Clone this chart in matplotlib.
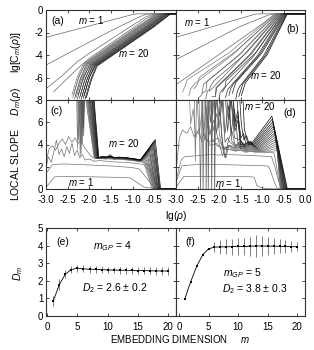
import matplotlib
matplotlib.use("Agg")
import matplotlib.pyplot as plt

plt.rcParams["font.family"] = ["Liberation Sans", "DejaVu Sans"]
plt.rcParams["mathtext.fontset"] = "custom"
plt.rcParams["mathtext.rm"] = "Liberation Sans"
plt.rcParams["mathtext.it"] = "Liberation Sans:italic"
plt.rcParams["font.size"] = 7

# ---------------- panel (a): lg C_m vs lg rho ----------------
A_LOW = [
    [(-3.0, -2.43), (-2.0, -1.42), (-1.0, -0.40), (-0.9, -0.34), (0.0, -0.34)],
    [(-3.0, -4.90), (-2.5, -3.87), (-2.0, -2.85), (-1.5, -1.85), (-1.0, -0.90), (-0.75, -0.45), (-0.6, -0.34), (0.0, -0.34)],
    [(-3.0, -7.00), (-2.6, -5.75), (-2.28, -4.60), (-2.0, -3.85), (-1.5, -2.60), (-1.0, -1.35), (-0.7, -0.62), (-0.5, -0.36), (0.0, -0.34)],
    [(-2.82, -7.25), (-2.5, -6.05), (-2.2, -4.95), (-2.0, -4.30), (-1.5, -2.95), (-1.0, -1.62), (-0.7, -0.80), (-0.5, -0.42), (-0.4, -0.34), (0.0, -0.34)],
]
# m = 5..20
A_XB = [-2.40, -2.38, -2.36, -2.34, -2.32, -2.30, -2.28, -2.25, -2.23, -2.21, -2.19, -2.17, -2.14, -2.12, -2.10, -2.07]
A_YB = [-7.55, -7.80, -7.45, -7.90, -7.60, -7.75, -7.95, -7.50, -7.85, -7.65, -7.95, -7.70, -7.85, -7.60, -7.90, -7.80]
A_X1 = [-2.28, -2.26, -2.24, -2.22, -2.20, -2.18, -2.16, -2.13, -2.11, -2.09, -2.07, -2.05, -2.02, -2.00, -1.98, -1.95]
A_Y1 = [-5.95, -6.20, -5.85, -6.30, -6.00, -6.15, -6.35, -5.90, -6.25, -6.05, -6.35, -6.10, -6.25, -6.00, -6.30, -6.20]
A_XK = [-2.13, -2.11, -2.09, -2.07, -2.05, -2.03, -2.00, -1.98, -1.96, -1.94, -1.92, -1.90, -1.88, -1.86, -1.84, -1.82]
A_YK = [-4.75, -4.77, -4.78, -4.80, -4.81, -4.83, -4.84, -4.86, -4.87, -4.89, -4.90, -4.92, -4.93, -4.95, -4.96, -4.98]
A_X3 = [-0.90, -0.88, -0.85, -0.83, -0.80, -0.77, -0.74, -0.71, -0.69, -0.66, -0.64, -0.61, -0.59, -0.56, -0.53, -0.51]
A_XT = [-0.45, -0.43, -0.41, -0.38, -0.36, -0.34, -0.32, -0.30, -0.27, -0.25, -0.23, -0.21, -0.19, -0.16, -0.14, -0.12]

# ---------------- panel (b) ----------------
B_LOW = [
    [(-3.0, -2.43), (-1.15, -0.36), (-1.0, -0.34), (0.0, -0.34)],
    [(-3.0, -4.41), (-1.5, -1.45), (-0.85, -0.45), (-0.7, -0.34), (0.0, -0.34)],
    [(-3.0, -6.64), (-2.0, -3.95), (-1.0, -1.25), (-0.75, -0.50), (-0.65, -0.34), (0.0, -0.34)],
]
# m = 4..20
B_XB = [-2.85, -2.70, -2.58, -2.47, -2.39, -2.31, -2.23, -2.16, -2.08, -2.00, -1.92, -1.85, -1.77, -1.69, -1.61, -1.54, -1.48]
B_YB = [-7.3, -7.6, -7.0, -7.8, -7.4, -7.9, -7.2, -7.7, -7.5, -7.9, -7.3, -7.8, -7.6, -7.4, -7.9, -7.7, -7.6]
B_W1 = [(-2.78, -6.7), (-2.66, -7.0), (-2.50, -6.6), (-2.40, -7.55), (-2.30, -7.2), (-2.27, -7.2), (-2.20, -6.8),
        (-2.08, -7.7), (-2.05, -6.9), (-1.97, -7.3), (-1.86, -6.9), (-1.80, -7.1), (-1.73, -7.0), (-1.64, -6.8),
        (-1.57, -7.2), (-1.49, -7.1), (-1.43, -7.0)]
B_W2 = [(-2.74, -6.2), (-2.55, -6.5), (-2.46, -6.0), (-2.36, -6.6), (-2.29, -6.4), (-2.19, -7.1), (-2.12, -6.3),
        (-2.07, -6.9), (-1.97, -6.6), (-1.90, -7.0), (-1.84, -6.3), (-1.74, -6.8), (-1.67, -6.6), (-1.60, -6.4),
        (-1.52, -6.8), (-1.45, -6.6), (-1.39, -6.5)]
B_XM = [-1.77, -1.68, -1.61, -1.55, -1.50, -1.45, -1.35, -1.30, -1.25, -1.20, -1.15, -1.11, -1.06, -1.01, -0.97, -0.92, -0.88]
B_YM = [-3.82, -3.97, -3.67, -4.07, -3.87, -4.12, -3.77, -4.02, -3.92, -4.12, -3.82, -4.07, -3.97, -3.87, -4.12, -4.02, -3.97]
B_XT = [-0.68, -0.66, -0.64, -0.62, -0.61, -0.59, -0.57, -0.55, -0.54, -0.52, -0.50, -0.49, -0.47, -0.45, -0.44, -0.42, -0.41]

# ---------------- panel (c): local slope ----------------
C_LOW = [
    [(-3.0, 0.15), (-2.8, 1.10), (-2.4, 1.12), (-2.0, 1.10), (-1.5, 1.06), (-1.05, 1.00), (-0.95, 0.70), (-0.74, 0.18), (-0.5, 0.05), (-0.3, 0.0), (0.0, 0.0)],
    [(-3.0, 1.40), (-2.85, 2.20), (-2.6, 2.25), (-2.2, 2.20), (-1.8, 2.12), (-1.4, 2.05), (-1.0, 1.92), (-0.85, 1.80), (-0.7, 1.10), (-0.55, 0.35), (-0.45, 0.08), (-0.3, 0.0), (0.0, 0.0)],
    [(-3.0, 1.8), (-2.95, 2.9), (-2.88, 2.4), (-2.82, 3.3), (-2.76, 4.4), (-2.70, 3.1), (-2.64, 3.6), (-2.58, 2.9), (-2.52, 3.8),
     (-2.46, 3.2), (-2.40, 4.1), (-2.34, 3.0), (-2.28, 3.5), (-2.22, 2.8), (-2.16, 3.1), (-2.10, 2.6), (-2.0, 2.7), (-1.9, 2.5),
     (-1.75, 2.55), (-1.5, 2.45), (-1.2, 2.40), (-0.9, 2.30), (-0.75, 2.20), (-0.6, 1.6), (-0.5, 0.7), (-0.42, 0.15), (-0.3, 0.0), (0.0, 0.0)],
    [(-3.0, 2.4), (-2.93, 3.6), (-2.85, 3.9), (-2.78, 3.5), (-2.70, 4.1), (-2.62, 4.5), (-2.55, 4.0), (-2.48, 4.7), (-2.40, 4.2),
     (-2.33, 4.6), (-2.26, 4.1), (-2.20, 4.4), (-2.12, 3.8), (-2.05, 3.4), (-1.95, 2.9), (-1.85, 2.75), (-1.7, 2.72), (-1.4, 2.68),
     (-1.1, 2.60), (-0.9, 2.50), (-0.75, 2.40), (-0.62, 2.10), (-0.52, 1.2), (-0.45, 0.4), (-0.38, 0.05), (-0.3, 0.0), (0.0, 0.0)],
]
C_ZIG = [
    [(-2.30, 9.5), (-2.27, 3.6), (-2.245, 9.5), (-2.21, 5.2), (-2.18, 9.5), (-2.14, 6.4), (-2.11, 9.5)],
    [(-2.28, 9.5), (-2.25, 4.4), (-2.22, 9.5), (-2.19, 3.2), (-2.16, 9.5), (-2.12, 7.0), (-2.10, 9.5)],
    [(-2.26, 9.5), (-2.23, 5.8), (-2.20, 9.5), (-2.17, 4.0), (-2.13, 9.5)],
    [(-2.25, 9.5), (-2.21, 3.0), (-2.18, 9.5), (-2.15, 5.5), (-2.12, 9.5)],
    [(-2.22, 9.5), (-2.19, 6.5), (-2.16, 9.5), (-2.13, 4.8), (-2.10, 9.5)],
    [(-2.20, 9.5), (-2.17, 4.2), (-2.14, 9.5)],
    [(-2.18, 9.5), (-2.14, 5.6), (-2.11, 9.5)],
    [(-2.2, 9.5)], [(-2.2, 9.5)], [(-2.2, 9.5)], [(-2.2, 9.5)], [(-2.2, 9.5)],
    [(-2.2, 9.5)], [(-2.2, 9.5)], [(-2.2, 9.5)], [(-2.2, 9.5)],
]
C_XT = [-2.08, -2.07, -2.05, -2.04, -2.03, -2.02, -2.00, -1.99, -1.98, -1.97, -1.95, -1.94, -1.93, -1.91, -1.90, -1.89]
C_XP = [-1.89, -1.88, -1.88, -1.87, -1.86, -1.85, -1.85, -1.84, -1.83, -1.82, -1.82, -1.81, -1.80, -1.80, -1.79, -1.78]
C_PX = [-1.72, -1.62, -1.52, -1.42, -1.32, -1.22, -1.12, -1.02, -0.92, -0.82]
C_PY = [
    [2.74, 2.70, 2.76, 2.68, 2.70, 2.66, 2.62, 2.58, 2.52, 2.47],
    [2.80, 2.72, 2.74, 2.71, 2.73, 2.68, 2.64, 2.60, 2.54, 2.49],
    [2.76, 2.78, 2.85, 2.70, 2.75, 2.70, 2.66, 2.61, 2.55, 2.50],
    [2.82, 2.74, 3.05, 2.74, 2.77, 2.71, 2.67, 2.63, 2.57, 2.51],
    [2.78, 2.80, 2.82, 2.76, 2.74, 2.73, 2.69, 2.64, 2.58, 2.52],
    [2.85, 2.76, 3.10, 2.72, 2.79, 2.74, 2.70, 2.65, 2.59, 2.53],
    [2.79, 2.83, 2.80, 2.78, 2.76, 2.75, 2.71, 2.66, 2.60, 2.54],
    [2.84, 2.78, 2.88, 2.75, 2.81, 2.76, 2.72, 2.67, 2.61, 2.55],
    [2.80, 2.85, 2.83, 2.80, 2.77, 2.77, 2.73, 2.68, 2.62, 2.56],
    [2.87, 2.80, 2.95, 2.77, 2.82, 2.78, 2.74, 2.69, 2.63, 2.57],
    [2.82, 2.86, 2.84, 2.82, 2.79, 2.79, 2.75, 2.70, 2.64, 2.58],
    [2.88, 2.82, 2.90, 2.79, 2.84, 2.80, 2.76, 2.71, 2.65, 2.59],
    [2.84, 2.88, 2.86, 2.84, 2.80, 2.81, 2.77, 2.72, 2.66, 2.60],
    [2.90, 2.84, 2.92, 2.81, 2.85, 2.82, 2.78, 2.73, 2.67, 2.61],
    [2.86, 2.90, 2.87, 2.85, 2.82, 2.83, 2.79, 2.74, 2.68, 2.62],
    [2.92, 2.86, 2.94, 2.83, 2.87, 2.84, 2.80, 2.75, 2.69, 2.63],
]
C_XPK = [-0.75, -0.73, -0.71, -0.70, -0.68, -0.66, -0.64, -0.62, -0.61, -0.59, -0.57, -0.55, -0.53, -0.52, -0.50, -0.48]
C_YPK = [2.45, 2.55, 2.65, 2.78, 2.90, 3.03, 3.15, 3.30, 3.43, 3.57, 3.70, 3.85, 4.00, 4.15, 4.30, 4.45]
C_XZ = [-0.55, -0.54, -0.52, -0.51, -0.50, -0.49, -0.47, -0.46, -0.45, -0.43, -0.42, -0.41, -0.39, -0.38, -0.37, -0.355]

# ---------------- panel (d) ----------------
D_LOW = [
    [(-3.0, 0.15), (-2.82, 1.12), (-2.0, 1.12), (-1.25, 1.10), (-1.18, 1.05), (-1.12, 0.30), (-1.0, 0.10), (-0.8, 0.02), (-0.6, 0.0), (0.0, 0.0)],
    [(-3.0, 0.6), (-2.86, 2.10), (-2.5, 2.20), (-2.0, 2.20), (-1.5, 2.15), (-1.0, 2.10), (-0.85, 2.05), (-0.8, 1.6), (-0.7, 0.5), (-0.64, 0.05), (-0.5, 0.0), (0.0, 0.0)],
    [(-3.0, 0.8), (-2.88, 2.6), (-2.8, 2.9), (-2.5, 3.0), (-2.2, 3.1), (-2.0, 3.05), (-1.8, 3.1), (-1.5, 3.05), (-1.2, 3.0),
     (-0.95, 2.95), (-0.78, 2.9), (-0.7, 2.0), (-0.62, 0.8), (-0.56, 0.1), (-0.5, 0.0), (0.0, 0.0)],
    [(-3.0, 1.5), (-2.92, 4.6), (-2.85, 5.3), (-2.75, 5.0), (-2.66, 5.6), (-2.58, 4.7), (-2.50, 5.2), (-2.42, 4.5), (-2.34, 4.9),
     (-2.25, 4.2), (-2.15, 4.4), (-2.05, 3.9), (-1.9, 3.7), (-1.7, 3.5), (-1.5, 3.45), (-1.3, 3.4), (-1.1, 3.35), (-0.9, 3.3),
     (-0.72, 3.25), (-0.66, 2.0), (-0.6, 0.6), (-0.56, 0.05), (-0.5, 0.0), (0.0, 0.0)],
]
D_NOISE = [
    [(-2.70, 9.5), (-2.66, 5.8), (-2.60, 7.2), (-2.54, 4.6), (-2.47, 5.4), (-2.40, 4.2), (-2.30, 4.6), (-2.20, 3.9), (-2.05, 4.1), (-1.95, 3.6)],
    [(-2.58, 9.5), (-2.55, 2.5), (-2.52, 8.6), (-2.46, 5.0), (-2.40, 6.8), (-2.33, 4.4), (-2.25, 5.9), (-2.15, 4.3), (-2.02, 4.6), (-1.92, 3.8)],
    [(-2.47, 9.5), (-2.43, -0.5), (-2.40, 9.5), (-2.36, 4.8), (-2.30, 7.5), (-2.22, 4.9), (-2.12, 6.2), (-2.02, 4.4), (-1.92, 3.0), (-1.86, 3.7)],
    [(-2.39, 9.5), (-2.37, -0.5), (-2.34, 9.5), (-2.28, 5.5), (-2.22, 8.2), (-2.14, 5.2), (-2.05, 6.8), (-1.97, 4.5), (-1.90, 3.6)],
    [(-2.31, 9.5), (-2.30, -0.5), (-2.27, 9.5), (-2.20, 6.0), (-2.12, 9.5), (-2.06, 5.0), (-1.98, 7.0), (-1.90, 3.3), (-1.84, 2.8), (-1.78, 3.9)],
    [(-2.26, 9.5), (-2.25, -0.5), (-2.23, 9.5), (-2.15, 6.6), (-2.08, 9.5), (-2.00, 5.5), (-1.93, 7.8), (-1.86, 4.2), (-1.80, 4.6)],
    [(-2.18, 9.5), (-2.17, -0.5), (-2.15, 9.5), (-2.08, 7.0), (-2.00, 9.5), (-1.94, 4.8), (-1.86, 2.8), (-1.78, 4.4), (-1.70, 5.2)],
    [(-2.11, 9.5), (-2.10, -0.5), (-2.08, 9.5), (-2.00, 6.5), (-1.93, 9.5), (-1.86, 5.0), (-1.78, 7.5), (-1.70, 4.3)],
    [(-2.00, 9.5), (-1.93, 7.4), (-1.87, 9.5), (-1.80, 5.2), (-1.72, 8.0), (-1.64, 4.6)],
    [(-1.92, 9.5), (-1.85, 8.2), (-1.78, 9.5), (-1.72, 5.0), (-1.64, 7.2), (-1.56, 4.2), (-1.50, 3.6)],
    [(-1.85, 9.5), (-1.77, 6.2), (-1.70, 9.5), (-1.63, 5.6), (-1.56, 6.6), (-1.50, 3.8)],
    [(-1.77, 9.5), (-1.70, 7.6), (-1.63, 5.2), (-1.56, 6.2), (-1.50, 4.0)],
    [(-1.69, 9.5), (-1.63, 6.0), (-1.56, 7.0), (-1.50, 4.4), (-1.44, 4.0)],
    [(-1.61, 9.5), (-1.55, 6.4), (-1.49, 4.6), (-1.43, 5.0), (-1.38, 4.1)],
    [(-1.54, 9.5), (-1.48, 5.8), (-1.42, 4.4), (-1.36, 4.8), (-1.31, 4.2)],
    [(-1.46, 9.5), (-1.41, 5.4), (-1.36, 4.5), (-1.31, 4.0)],
]
D_PX = [-1.75, -1.62, -1.50, -1.38, -1.26, -1.14, -1.02]
D_PY = [
    [3.55, 3.40, 3.48, 3.30, 3.38, 3.28, 3.32],
    [3.70, 3.45, 3.60, 3.38, 3.44, 3.36, 3.35],
    [3.85, 3.55, 3.72, 3.42, 3.52, 3.40, 3.42],
    [3.95, 3.62, 3.80, 3.50, 3.58, 3.46, 3.47],
    [4.10, 3.70, 3.92, 3.55, 3.65, 3.52, 3.52],
    [4.25, 3.78, 4.05, 3.62, 3.72, 3.58, 3.58],
    [4.40, 3.85, 4.15, 3.70, 3.80, 3.64, 3.63],
    [4.55, 3.90, 4.30, 3.76, 3.88, 3.70, 3.69],
    [4.70, 4.00, 4.40, 3.82, 3.96, 3.77, 3.74],
    [4.80, 4.05, 4.50, 3.90, 4.02, 3.82, 3.80],
    [4.90, 4.10, 4.60, 3.96, 4.10, 3.88, 3.85],
    [5.00, 4.20, 4.70, 4.02, 4.16, 3.94, 3.91],
    [5.10, 4.25, 4.80, 4.08, 4.22, 4.00, 3.96],
    [5.20, 4.30, 4.90, 4.14, 4.30, 4.06, 4.02],
    [5.30, 4.40, 5.00, 4.20, 4.36, 4.12, 4.07],
    [5.40, 4.45, 5.10, 4.26, 4.42, 4.18, 4.12],
]
D_XR = [-0.95, -0.97, -0.99, -1.01, -1.03, -1.05, -1.07, -1.09, -1.11, -1.13, -1.15, -1.17, -1.19, -1.21, -1.23, -1.25]
D_YR = [3.30, 3.35, 3.40, 3.45, 3.50, 3.55, 3.60, 3.65, 3.70, 3.75, 3.80, 3.85, 3.90, 3.95, 4.00, 4.05]
D_XPK = [-0.64, -0.65, -0.66, -0.66, -0.67, -0.68, -0.69, -0.70, -0.70, -0.71, -0.72, -0.73, -0.74, -0.75, -0.76, -0.77]
D_YPK = [3.45, 3.65, 3.85, 4.05, 4.25, 4.45, 4.65, 4.85, 5.05, 5.25, 5.45, 5.65, 5.85, 6.05, 6.30, 6.55]
D_XZ = [-0.58, -0.57, -0.56, -0.55, -0.54, -0.53, -0.52, -0.51, -0.50, -0.49, -0.48, -0.46, -0.45, -0.44, -0.42, -0.41]

# ---------------- panels (e), (f): D_m vs embedding dimension ----------------
M = list(range(1, 21))
E_D = [0.85, 1.78, 2.38, 2.64, 2.71, 2.68, 2.66, 2.65, 2.63, 2.62, 2.61, 2.60, 2.60, 2.59, 2.58, 2.58, 2.57, 2.56, 2.56, 2.55]
E_ERR = [0.30, 0.30, 0.23, 0.22, 0.20, 0.19, 0.19, 0.19, 0.19, 0.19, 0.19, 0.20, 0.20, 0.20, 0.20, 0.21, 0.21, 0.21, 0.22, 0.22]
F_D = [0.99, 1.96, 2.83, 3.47, 3.82, 3.91, 3.93, 3.93, 3.94, 3.95, 3.95, 3.96, 3.98, 3.98, 3.97, 3.97, 3.96, 3.95, 3.94, 3.93]
F_ERR = [0.0, 0.0, 0.0, 0.0, 0.0, 0.30, 0.38, 0.42, 0.45, 0.48, 0.50, 0.55, 0.60, 0.55, 0.50, 0.45, 0.40, 0.35, 0.30, 0.25]


def gray(k, n=16):
    return str(round(0.5 - 0.45 * k / (n - 1), 3))


def draw(ax, curves, colors):
    for pts, c in zip(curves, colors):
        xs, ys = zip(*pts)
        ax.plot(xs, ys, color=c, lw=0.5)


def style(ax):
    ax.tick_params(direction="in", top=True, right=True, length=2.5, width=0.5, labelsize=7)
    ax.tick_params(axis="x", pad=4)
    ax.tick_params(axis="y", pad=2)
    for s in ax.spines.values():
        s.set_linewidth(0.8)
        s.set_color("0.2")


def main():
    fig = plt.figure(figsize=(3.14, 3.5), dpi=100)
    L, MID, R = 46 / 314, 176 / 314, 305 / 314
    W1, W2 = MID - L, R - MID
    top_y, mid_y, bot_y = 1 - 10 / 350, 1 - 100 / 350, 1 - 189 / 350
    ax_a = fig.add_axes([L, mid_y, W1, top_y - mid_y])
    ax_b = fig.add_axes([MID, mid_y, W2, top_y - mid_y])
    ax_c = fig.add_axes([L, bot_y, W1, mid_y - bot_y])
    ax_d = fig.add_axes([MID, bot_y, W2, mid_y - bot_y])
    eb_top, eb_bot = 1 - 228 / 350, 1 - 316 / 350
    ax_e = fig.add_axes([L, eb_bot, W1, eb_top - eb_bot])
    ax_f = fig.add_axes([MID, eb_bot, W2, eb_top - eb_bot])

    # (a)
    a_curves = list(A_LOW)
    for k in range(16):
        a_curves.append([(A_XB[k], A_YB[k]), (A_X1[k], A_Y1[k]), (A_XK[k], A_YK[k]),
                         (A_X3[k], -1.5), (A_XT[k], -0.34), (0.0, -0.34)])
    draw(ax_a, a_curves, ["0.4"] * 4 + [gray(k) for k in range(16)])

    # (b)
    b_curves = list(B_LOW)
    for j in range(17):
        b_curves.append([(B_XB[j], B_YB[j]), B_W1[j], B_W2[j], (B_XM[j], B_YM[j]),
                         (B_XT[j], -0.34), (0.0, -0.34)])
    draw(ax_b, b_curves, ["0.4"] * 3 + [gray(j, 17) for j in range(17)])

    # (c)
    c_curves = list(C_LOW)
    for k in range(16):
        pts = list(C_ZIG[k]) + [(C_XT[k], 8.0), (C_XP[k], 2.8)]
        pts += list(zip(C_PX, C_PY[k]))
        pts += [(C_XPK[k], C_YPK[k]), (C_XZ[k], 0.0), (0.0, 0.0)]
        c_curves.append(pts)
    draw(ax_c, c_curves, ["0.45"] * 4 + [gray(k) for k in range(16)])

    # (d)
    d_curves = list(D_LOW)
    for k in range(16):
        pts = list(D_NOISE[k])
        last = pts[-1][0]
        pts += [(x, y) for x, y in zip(D_PX, D_PY[k]) if last + 0.03 < x < D_XR[k] - 0.03]
        pts += [(D_XR[k], D_YR[k]), (D_XPK[k], D_YPK[k]), (D_XZ[k], 0.0), (0.0, 0.0)]
        d_curves.append(pts)
    draw(ax_d, d_curves, ["0.45"] * 4 + [gray(k) for k in range(16)])

    for ax in (ax_a, ax_b, ax_c, ax_d):
        ax.set_xlim(-3.0, 0.0)
        ax.set_xticks([-3.0, -2.5, -2.0, -1.5, -1.0, -0.5, 0.0])
        style(ax)
    for ax in (ax_a, ax_b):
        ax.set_ylim(-8, 0)
        ax.set_yticks([0, -2, -4, -6, -8])
        ax.set_xticklabels([])
    for ax in (ax_c, ax_d):
        ax.set_ylim(0, 8)
        ax.set_yticks([0, 2, 4, 6, 8])
    ax_a.set_yticklabels(["0", "-2", "-4", "-6", "-8"])
    ax_c.set_yticklabels(["0", "2", "4", "6", ""])
    ax_b.set_yticklabels([])
    ax_d.set_yticklabels([])
    ax_c.set_xticklabels(["-3.0", "-2.5", "-2.0", "-1.5", "-1.0", "-0.5", ""])
    ax_d.set_xticklabels(["-3.0", "-2.5", "-2.0", "-1.5", "-1.0", "-0.5", "0.0"])

    ax_a.text(-2.73, -1.0, "(a)", ha="center", va="center", fontsize=7.5)
    ax_a.text(-1.95, -0.9, "$m$ = 1", ha="center", va="center", fontsize=7)
    ax_a.text(-0.98, -3.8, "$m$ = 20", ha="center", va="center", fontsize=7)
    ax_b.text(-0.28, -1.66, "(b)", ha="center", va="center", fontsize=7.5)
    ax_b.text(-2.5, -1.05, "$m$ = 1", ha="center", va="center", fontsize=7)
    ax_b.text(-0.90, -5.75, "$m$ = 20", ha="center", va="center", fontsize=7)
    ax_c.text(-2.76, 6.97, "(c)", ha="center", va="center", fontsize=7.5)
    ax_c.text(-1.2, 4.1, "$m$ = 20", ha="center", va="center", fontsize=7)
    ax_c.text(-2.2, 0.65, "$m$ = 1", ha="center", va="center", fontsize=7)
    ax_d.text(-0.35, 6.8, "(d)", ha="center", va="center", fontsize=7.5)
    ax_d.text(-1.04, 7.5, "$m$ = 20", ha="center", va="center", fontsize=7)
    ax_d.text(-1.8, 0.5, "$m$ = 1", ha="center", va="center", fontsize=7)

    # (e), (f)
    for ax, d, err in ((ax_e, E_D, E_ERR), (ax_f, F_D, F_ERR)):
        ax.errorbar(M, d, yerr=err, fmt="-s", color="k", ms=2, lw=0.6, mew=0,
                    elinewidth=0.5, ecolor="0.3", capsize=1.5, capthick=0.5)
        ax.set_ylim(0, 5)
        ax.set_xticks([0, 5, 10, 15, 20])
        ax.set_yticks([0, 1, 2, 3, 4, 5])
        style(ax)
    ax_e.set_xlim(-0.2, 21.3)
    ax_f.set_xlim(-0.5, 21.3)
    ax_f.set_yticklabels([])
    ax_e.text(2.5, 4.2, "(e)", ha="center", va="center", fontsize=7.5)
    ax_e.text(10.8, 3.95, "$m_{GP}$ = 4", ha="center", va="center", fontsize=7.5)
    ax_e.text(11.2, 1.6, "$D_2$ = 2.6 ± 0.2", ha="center", va="center", fontsize=7.5)
    ax_f.text(2.0, 4.2, "(f)", ha="center", va="center", fontsize=7.5)
    ax_f.text(7.4, 2.44, "$m_{GP}$ = 5", ha="left", va="center", fontsize=7.5)
    ax_f.text(7.3, 1.5, "$D_2$ = 3.8 ± 0.3", ha="left", va="center", fontsize=7.5)

    fig.text(16 / 314, 1 - 52 / 350, "lg[C$_m$($\\rho$)]", rotation=90, ha="center", va="center", fontsize=7.5)
    fig.text(16 / 314, 1 - 144 / 350, "LOCAL SLOPE     $D_m(\\rho)$", rotation=90, ha="center", va="center", fontsize=7.5)
    fig.text(18 / 314, 1 - 273 / 350, "$D_m$", rotation=90, ha="center", va="center", fontsize=7.5)
    fig.text(176 / 314, 1 - 216 / 350, "lg($\\rho$)", ha="center", va="center", fontsize=7.5)
    fig.text(180 / 314, 1 - 339 / 350, "EMBEDDING DIMENSION     $m$", ha="center", va="center", fontsize=7)

    fig.savefig("out.png", dpi=100, facecolor="white")
    plt.close(fig)


if __name__ == "__main__":
    main()
